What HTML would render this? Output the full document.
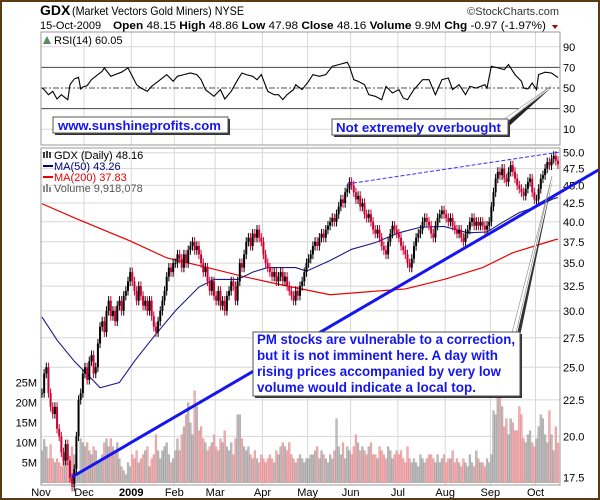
<!DOCTYPE html>
<html><head><meta charset="utf-8">
<style>
html,body{margin:0;padding:0;background:#fff;}
svg{display:block;font-family:"Liberation Sans",Arial,sans-serif;}
</style></head>
<body>
<svg id="chart" width="600" height="500" viewBox="0 0 600 500" xmlns="http://www.w3.org/2000/svg">
<rect x="0" y="0" width="600" height="500" fill="#fff"/>
<g id="grid"></g>
<g id="rsiG"></g>
<g id="volG"></g>
<g id="maG"></g>
<g id="candleG"></g>
<g id="axisG"></g>

<!-- header -->
<text x="40" y="15" font-size="14" font-weight="bold" fill="#000">GDX</text>
<text x="72" y="15" font-size="12" fill="#000" textLength="172" lengthAdjust="spacingAndGlyphs">(Market Vectors Gold Miners) NYSE</text>
<text x="559" y="15" font-size="11" fill="#333" text-anchor="end">©StockCharts.com</text>
<text x="40" y="29" font-size="11" fill="#000">15-Oct-2009</text>
<text x="113" y="29" font-size="11" fill="#000" textLength="433" lengthAdjust="spacingAndGlyphs"><tspan font-weight="bold">Open</tspan> 48.15 <tspan font-weight="bold">High</tspan> 48.86 <tspan font-weight="bold">Low</tspan> 47.98 <tspan font-weight="bold">Close</tspan> 48.16 <tspan font-weight="bold">Volume</tspan> 9.9M <tspan font-weight="bold">Chg</tspan> -0.97 (-1.97%)</text>
<path d="M552 25 L558 25 L555 29 Z" fill="#a00"/>

<!-- legends -->
<text x="54" y="44" font-size="11" fill="#000">RSI(14) 60.05</text>
<path d="M43 44 L47 36 L51 44 Z" fill="#5a8a5a"/>
<text x="54" y="159" font-size="11" fill="#000">GDX (Daily) 48.16</text>
<path d="M44 152 v6 M47 151 v7 M50 152 v6" stroke="#000" stroke-width="1.5"/>
<line x1="43" y1="166" x2="53" y2="166" stroke="#000080" stroke-width="2"/>
<text x="54" y="170" font-size="11" fill="#000080">MA(50) 43.26</text>
<line x1="43" y1="177" x2="53" y2="177" stroke="#e00" stroke-width="2"/>
<text x="54" y="181" font-size="11" fill="#e00">MA(200) 37.83</text>
<path d="M44 192 v-6 M47 192 v-8 M50 192 v-5" stroke="#666" stroke-width="1.5"/>
<text x="54" y="192" font-size="11" fill="#555">Volume 9,918,078</text>

<!-- trend lines -->
<line x1="72" y1="477" x2="600" y2="169" stroke="#1515ee" stroke-width="3"/>
<line x1="347" y1="184" x2="560" y2="152" stroke="#3333ff" stroke-width="1" stroke-dasharray="4,2"/>

<!-- callouts -->
<g>
<rect x="55" y="119" width="175" height="16" fill="#333"/>
<rect x="53" y="117" width="175" height="16" fill="#fff" stroke="#555" stroke-width="1"/>
<text x="58" y="130" font-size="13" font-weight="bold" fill="#1515ee" textLength="163" lengthAdjust="spacingAndGlyphs">www.sunshineprofits.com</text>
</g>
<g>
<path d="M503 125 L552 87 L506 129 Z" fill="#222"/>
<path d="M500 122 L551 86 L503 125 Z" fill="#fff" stroke="#999" stroke-width="0.6"/>
<rect x="334" y="121" width="176" height="16" fill="#333"/>
<rect x="332" y="119" width="176" height="16" fill="#fff" stroke="#555" stroke-width="1"/>
<text x="336" y="132" font-size="13" font-weight="bold" fill="#1515ee" textLength="165" lengthAdjust="spacingAndGlyphs">Not extremely overbought</text>
</g>
<g>
<path d="M517 334 L553 178 L520 336 Z" fill="#333"/>
<path d="M512 333 L552 176 L516 333 Z" fill="#fff" stroke="#888" stroke-width="0.6"/>
<rect x="255" y="334" width="267" height="64" fill="#333"/>
<rect x="253" y="332" width="267" height="64" fill="#fff" stroke="#555" stroke-width="1"/>
<text font-size="14" font-weight="bold" fill="#1515ee">
<tspan x="257" y="344" textLength="258" lengthAdjust="spacingAndGlyphs">PM stocks are vulnerable to a correction,</tspan>
<tspan x="257" y="360" textLength="241" lengthAdjust="spacingAndGlyphs">but it is not imminent here. A day with</tspan>
<tspan x="257" y="376" textLength="244" lengthAdjust="spacingAndGlyphs">rising prices accompanied by very low</tspan>
<tspan x="257" y="392" textLength="219" lengthAdjust="spacingAndGlyphs">volume would indicate a local top.</tspan>
</text>
</g>

<rect x="1" y="1" width="598" height="498" fill="none" stroke="#5a3a14" stroke-width="2"/>
</svg>
<script>
// ---------- data ----------
const closes = [
23,24.5,25,23,22,21.5,22,20.5,20,19,18.5,19.5,18.5,17.5,17,18,20,22.5,23,24.5,
25,24,25.5,26,24.5,25,27,28.5,29,28,30,31,29.5,30,29,30.5,31,30,31.5,32,33,34,
33,32,31,32.5,31.5,30.5,31,30,31,29.5,28.5,28,29,30,31,32,33.5,34.5,34,35,
35,36,35.5,34.5,36,35,36.5,37,37.5,36.5,37,36,35,34,34.5,33,32,33,31.5,
31,32,30.5,31,30,31.5,32,33,32.5,31,33,35,34.5,36,37.5,38,37,38.5,38,39,38,37.5,
36,35,34.5,34,33.5,34,33,33.5,34,33,33.5,32.5,32,31.5,31,32,31.5,32.5,33,34,35,
35.5,36,37,37.5,37,38,38.5,38,39,39.5,40,40.5,40,41,42,43,42.5,44,44.5,45.5,
45,44,43,43.5,42,42.5,41,40.5,41,40,39,38.5,39,38,37,36.5,36,37.5,38.5,39.5,39,38.5,
38,37,36.5,36,35,34.5,35.5,37,38,38.5,39,40,40.5,40,39.5,38.5,38,39.5,40.5,41,41.5,41,
40.5,40,40.5,39.5,39,38.5,39,38,37.5,38.5,39,40,40.5,39.5,40,39.5,40,39.5,39,39.5,40,
42,44,46,47,46.5,47.5,46,45.5,47,48,47,46,45,44.5,44,43.5,44.5,45.5,46,44,43,
43,44.5,46,46.5,47.5,48.5,48,49,49.5,48.7,48.16];
const volumes = [
8,10.8,9,6,9.5,6,5,6,5,4,7,6,5,4.5,9,7,3,2,11,10,
9,10,8,7,9,8,5,6,7,10,11,9,11,9,8,10,6,4,3,2,5,4,
7,6,8,5,6,7,8,9,4,6,7,12,8,6,8,9,10,7,5,6,
8,11,8,12,14,17,20,15,12,23,19,13,14,11,10,8,9,10,12,
9,8,11,10,13,9,8,10,7,11,17,17,11,9,8,9,7,6,8,6,5,7,
6,5,6,7,6,5,8,7,9,10,9,8,10,7,6,5,6,7,6,5,6,
6,7,7,8,9,6,8,7,6,5,7,6,8,16,9,7,10,6,9,8,
7,9,12,10,8,9,8,7,9,10,7,7,6,9,8,7,6,9,8,6,7,8,
7,8,6,5,9,6,5,6,5,4,7,6,5,6,7,7,6,5,7,5,6,7,
5,6,6,8,5,6,5,4,6,5,4,7,5,4,8,6,5,5,4,6,5,
7,18,17,24,22,19,14,16,12,16,15,13,13,19,17,11,10,12,13,10,9,
11,14,17,16,12,10,18,12,8,14,9.9];
const rsiDays = [0,1,3,5,7,9,12,13,15,17,18,19,21,23,26,28,29,32,34,37,40,42,44,46,49,51,53,55,58,61,63,66,69,72,74,76,77,80,83,85,88,91,93,95,98,100,102,105,108,110,112,114,117,118,121,124,126,129,132,135,138,142,143,145,147,150,152,155,158,160,163,166,168,170,173,175,177,180,183,186,189,191,194,197,199,202,206,207,209,212,215,217,220,223,224,226,228,230,231,234,237,240];
const rsiVals = [50,48.4,43.5,46.8,39.3,43.5,38.6,53.2,58.8,60.4,49,51,52.3,58.1,63,66.2,69.5,61.4,63,65.3,69.5,61.4,53.2,50,46.8,51.6,54.9,58.1,63,56.5,61.4,63,64.6,63,58.1,48.4,46.8,41.9,48.4,39.3,46.8,58.1,64.6,63,61.4,58.1,63,46.8,43.5,43.5,38.6,43.5,48.4,53.2,48.4,56.5,63,61.4,63,71.1,72.7,75,71.1,58.1,56.5,53.2,43.5,41.9,38.6,51.6,45.1,48.4,40.3,38.6,48.4,53.2,58.1,58.1,43.5,58.1,59.7,48.4,53.2,43.5,51.6,50,53.2,50,71.1,69.5,67.9,72.7,63,56.5,50,49,54.9,48.4,63,65.3,64.6,60.05];
const ma50Days = [0,7,15,23,27,36,43,52,62,73,80,91,98,105,118,123,134,144,155,166,176,187,198,207,214,222,230,238,240];
const ma50Vals = [29.4,27.3,25.5,24.1,23.4,23.8,25.5,27.6,30,32.4,33.2,33.2,34,34.5,34.5,34.1,35.3,36.6,37.4,38.6,39.3,39.4,38.6,38.7,39.9,41.2,42,43.1,43.26];
const ma200Days = [0,16,41,58,77,94,112,134,151,169,187,205,219,238,240];
const ma200Vals = [42.4,40.4,37.6,35.6,34.5,33.5,32.6,31.6,31.9,32.2,33.2,34.5,36.2,37.7,37.83];
const priceTicks = ["50.0","47.5","45.0","42.5","40.0","37.5","35.0","32.5","30.0","27.5","25.0","22.5","20.0","17.5"];
const volTicks = ["5M","10M","15M","20M","25M"];
const rsiTicks = ["90","70","50","30","10"];
const months = ["Nov","Dec","2009","Feb","Mar","Apr","May","Jun","Jul","Aug","Sep","Oct"];
const monthStartDays = [0,20,42,62,81,103,124,144,166,188,209,230];

// ---------- scales ----------
const L=41, R=560;
const xDay = d => 42 + d*2.15;
const yPrice = v => 152.7 + 309.6*Math.log(50/v);
const yVol = v => 482.7 - v*4;
const yRsi = v => 88 - (v-50)*1.03;
const NS="http://www.w3.org/2000/svg";
function mk(tag, attrs, parent){const e=document.createElementNS(NS,tag);for(const k in attrs)e.setAttribute(k,attrs[k]);parent.appendChild(e);return e;}
const grid=document.getElementById('grid'), axisG=document.getElementById('axisG');

let p=mk('rect',{x:L,y:32,width:R-L,height:113,fill:'none',stroke:'#999'},axisG);


p=mk('rect',{x:L,y:148,width:R-L,height:337,fill:'none',stroke:'#999'},axisG);



monthStartDays.forEach((d,i)=>{
  const x=xDay(d)-1;
  let g=mk('line',{x1:x,y1:32,x2:x,y2:145,stroke:'#d8d8d8'},grid);
  
  
  g=mk('line',{x1:x,y1:148,x2:x,y2:485,stroke:'#d8d8d8'},grid);
  
  
  const t=mk('text',{x:x,y:496,'font-size':11,'text-anchor':'middle',fill:'#000','font-weight':months[i]==='2009'?'bold':'normal'},axisG);
  t.textContent=months[i];
  
  
});
priceTicks.forEach(s=>{
  const y=yPrice(parseFloat(s));
  let g=mk('line',{x1:L,y1:y,x2:R,y2:y,stroke:'#d8d8d8'},grid);
  
  
  const t=mk('text',{x:563,y:y+4,'font-size':11,fill:'#000'},axisG);
  t.textContent=s;
  
  
});
volTicks.forEach(s=>{
  const y=yVol(parseFloat(s));
  const t=mk('text',{x:37,y:y+4,'font-size':11,'text-anchor':'end',fill:'#000'},axisG);
  t.textContent=s;
  
  
});
const rsiG=document.getElementById('rsiG');
rsiTicks.forEach(s=>{
  const v=parseFloat(s), y=yRsi(v);
  let st = (v===70||v===30)?'#444':'#d8d8d8';
  let g=mk('line',{x1:L,y1:y,x2:R,y2:y,stroke:st},v===50?rsiG:grid);
  if(v===50){g.setAttribute('stroke','#555');g.setAttribute('stroke-dasharray','6,2,2,2');}
  
  
  const t=mk('text',{x:563,y:y+4,'font-size':11,fill:'#000'},axisG);
  t.textContent=s;
  
  
});
let rp=rsiDays.map((d,i)=>xDay(d).toFixed(1)+','+yRsi(rsiVals[i]).toFixed(1)).join(' ');
let rl=mk('polyline',{points:rp,fill:'none',stroke:'#000','stroke-width':1.1},rsiG);



const volG=document.getElementById('volG');
volumes.forEach((v,i)=>{
  const down = i>0 && closes[i]<closes[i-1];
  const y=yVol(v);
  const b=mk('rect',{x:xDay(i)-0.9,y:y,width:1.8,height:482.7-y,fill:down?'#f0b0b4':'#bdbdbd',stroke:down?'#d88':'#999','stroke-width':0.4},volG);
  
  
});

const maG=document.getElementById('maG');
let m=mk('polyline',{points:ma200Days.map((d,i)=>xDay(d)+','+yPrice(ma200Vals[i])).join(' '),fill:'none',stroke:'#e00','stroke-width':1.2},maG);


m=mk('polyline',{points:ma50Days.map((d,i)=>xDay(d)+','+yPrice(ma50Vals[i])).join(' '),fill:'none',stroke:'#1a1a8a','stroke-width':1.1},maG);



const cg=document.getElementById('candleG');
closes.forEach((c,i)=>{
  const o = i>0?closes[i-1]:c;
  const down = i>0 && c<o;
  const col = down?'#cc0033':'#000';
  const hi=Math.max(o,c)*1.015, lo=Math.min(o,c)*0.985;
  const x=xDay(i);
  const w=mk('line',{x1:x,y1:yPrice(hi),x2:x,y2:yPrice(lo),stroke:col,'stroke-width':1},cg);
  
  
  const yt=yPrice(Math.max(o,c)), yb=yPrice(Math.min(o,c));
  const b=mk('rect',{x:x-1,y:yt,width:2,height:Math.max(1,yb-yt),fill:col},cg);
  
  
});
</script>
</body></html>
